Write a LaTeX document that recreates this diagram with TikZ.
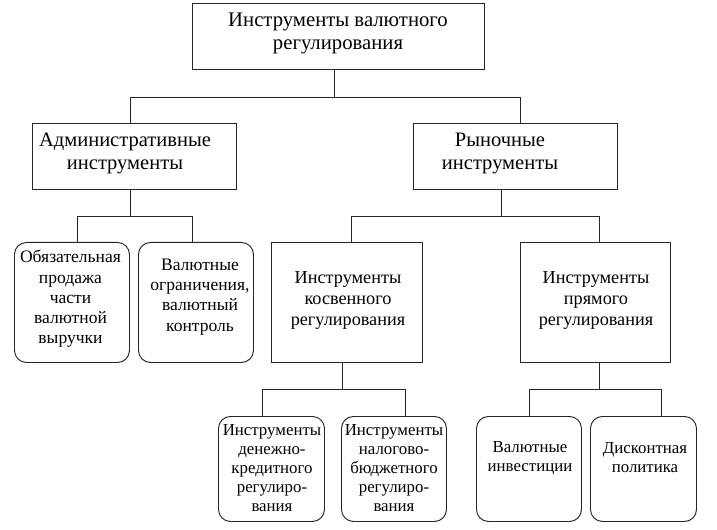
\documentclass[tikz,border=0pt]{standalone}
\usepackage{fontspec}
\setmainfont{Liberation Serif}
\usetikzlibrary{calc}
\definecolor{lncol}{HTML}{262626}
\tikzset{
  sqbox/.style={draw=lncol, line width=0.95bp, anchor=north west, inner sep=0pt},
  rbox/.style={sqbox, rounded corners=12bp},
  conn/.style={draw=lncol, line width=0.95bp},
  txt/.style={align=center, inner sep=0pt},
  fA/.style={font={\fontsize{20.8}{23}\selectfont}},
  fB/.style={font={\fontsize{20.6}{23}\selectfont}},
  fC/.style={font={\fontsize{18.3}{21.5}\selectfont}},
  fD/.style={font={\fontsize{17.6}{20.3}\selectfont}},
  fE/.style={font={\fontsize{16.9}{19.2}\selectfont}}
}
\begin{document}
\begin{tikzpicture}[x=1bp,y=-1bp]
\useasboundingbox (0,0) rectangle (717,530);
% boxes
\node[sqbox, minimum width=292bp, minimum height=66bp] (top) at (192,3) {};
\node[sqbox, minimum width=204bp, minimum height=66bp] (adm) at (32,123) {};
\node[sqbox, minimum width=204bp, minimum height=66bp] (mkt) at (413,123) {};
\node[rbox, minimum width=115bp, minimum height=120bp] (c1) at (14,242) {};
\node[rbox, minimum width=115bp, minimum height=120bp] (c2) at (138,242) {};
\node[sqbox, minimum width=151bp, minimum height=120bp] (ind) at (271,242) {};
\node[sqbox, minimum width=150bp, minimum height=120bp] (dir) at (520,242) {};
\node[rbox, minimum width=106bp, minimum height=105bp] (c3) at (218,416) {};
\node[rbox, minimum width=105bp, minimum height=105bp] (c4) at (341,416) {};
\node[rbox, minimum width=105bp, minimum height=105bp] (c5) at (476,416) {};
\node[rbox, minimum width=106bp, minimum height=105bp] (c6) at (590,416) {};
% texts
\node[txt, fA] (topt) at (338,33.5) {Инструменты валютного\\регулирования};
\node[txt, fB] (admt) at (125,153.5) {Административные\\инструменты};
\node[txt, fB] (mktt) at (500,153.5) {Рыночные\\инструменты};
\node[txt, fC] (indt) at (348,300.5) {Инструменты\\косвенного\\регулирования};
\node[txt, fC] (dirt) at (596,300.5) {Инструменты\\прямого\\регулирования};
\node[txt, fD] (c1t) at (70.5,299) {Обязательная\\продажа\\части\\валютной\\выручки};
\node[txt, fD] (c2t) at (200,297) {Валютные\\ограничения,\\валютный\\контроль};
\node[txt, fE] (c3t) at (272,468) {Инструменты\\денежно-\\кредитного\\регулиро-\\вания};
\node[txt, fE] (c4t) at (394,468) {Инструменты\\налогово-\\бюджетного\\регулиро-\\вания};
\node[txt, fE] (c5t) at (530,458) {Валютные\\инвестиции};
\node[txt, fE] (c6t) at (645,458) {Дисконтная\\политика};
% junctions
\coordinate (j0) at (334,97);
\coordinate (j1) at (130,216);
\coordinate (j2) at (501,216);
\coordinate (j3) at (342,389);
\coordinate (j4) at (599,389);
% connectors
\draw[conn] (top.south -| j0) -- (j0);
\draw[conn] (j0) -| ($(adm.north)+(-4,0)$);
\draw[conn] (j0) -| ($(mkt.north)+(5,0)$);
\draw[conn] (adm.south -| j1) -- (j1);
\draw[conn] (j1) -| ($(c1.north)+(5.5,0)$);
\draw[conn] (j1) -| ($(c2.north)+(-3.5,0)$);
\draw[conn] (mkt.south -| j2) -- (j2);
\draw[conn] (j2) -| ($(ind.north)+(4.5,0)$);
\draw[conn] (j2) -| ($(dir.north)+(4,0)$);
\draw[conn] (ind.south -| j3) -- (j3);
\draw[conn] (j3) -| ($(c3.north)+(-9,0)$);
\draw[conn] (j3) -| ($(c4.north)+(11.5,0)$);
\draw[conn] (dir.south -| j4) -- (j4);
\draw[conn] (j4) -| ($(c5.north)+(0.5,0)$);
\draw[conn] (j4) -| ($(c6.north)+(18,0)$);
\end{tikzpicture}
\end{document}
